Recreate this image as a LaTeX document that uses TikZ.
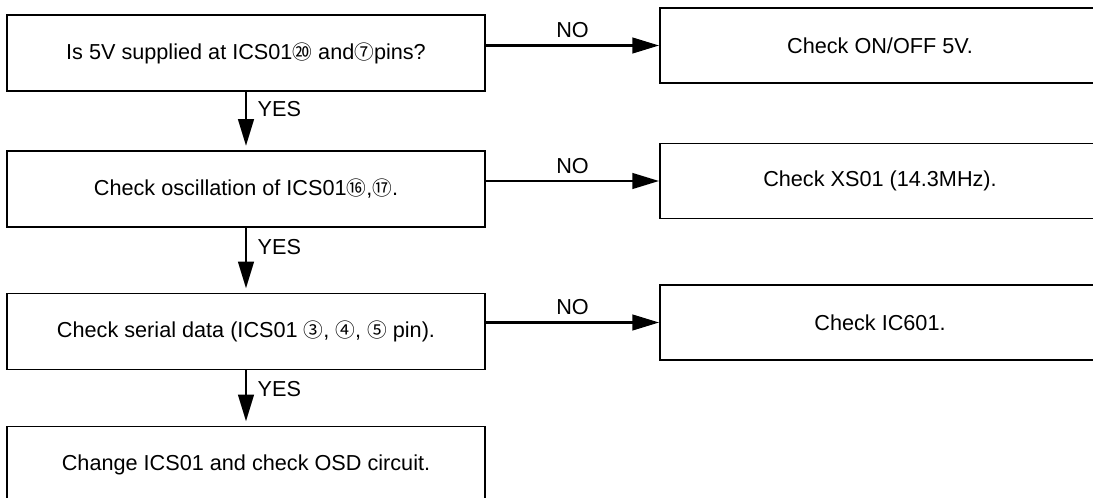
\documentclass[tikz,border=0pt]{standalone}
\usepackage{fontspec}
\setmainfont{Liberation Sans}
\newfontfamily\circfont{Noto Sans CJK JP}
\usetikzlibrary{arrows.meta,positioning}
\newcommand{\pin}[1]{{\circfont\fontsize{14}{14}\selectfont #1}}

\begin{document}
\begin{tikzpicture}[x=0.025cm, y=-0.025cm, >={Triangle[length=19pt,width=11pt]}, every node/.style={font=\fontsize{15.4}{18}\selectfont}, stepbox/.style={draw,line width=1.2pt,minimum width=11.95cm,minimum height=1.9cm,inner sep=0pt}, checkbox/.style={draw,line width=1.2pt,minimum width=11cm,minimum height=1.875cm,inner sep=0pt}, flow/.style={->,line width=2pt}]
\useasboundingbox (0,0) rectangle (1093,498);
\node[stepbox] (s1) at (246,53) {Is 5V supplied at ICS01\pin{⑳} and\pin{⑦}pins?};
\node[stepbox] (s2) at (246,189) {Check oscillation of ICS01\pin{⑯},\pin{⑰}.};
\node[stepbox] (s3) at (246,331.5) {Check serial data (ICS01 \pin{③}, \pin{④}, \pin{⑤} pin).};
\node[stepbox] (s4) at (246,464.5) {Change ICS01 and check OSD circuit.};
\node[checkbox] (c1) at (880,45.5) {Check ON/OFF 5V.};
\node[checkbox] (c2) at (880,181) {Check XS01 (14.3MHz).};
\node[checkbox] (c3) at (880,322.5) {Check IC601.};
\draw[flow,shorten >=3pt] (s1)--node[pos=0.3,right=4pt] {YES}(s2);
\draw[flow,shorten >=3pt] (s2)--node[pos=0.3,right=4pt] {YES}(s3);
\draw[flow,shorten >=3pt] (s3)--node[pos=0.33,right=4pt] {YES}(s4);
\draw[flow] (c1.west -| s1.east)--node[above=1pt] {NO}(c1.west);
\draw[flow] (c2.west -| s2.east)--node[above=1pt] {NO}(c2.west);
\draw[flow] (c3.west -| s3.east)--node[above=1pt] {NO}(c3.west);
\end{tikzpicture}
\end{document}
